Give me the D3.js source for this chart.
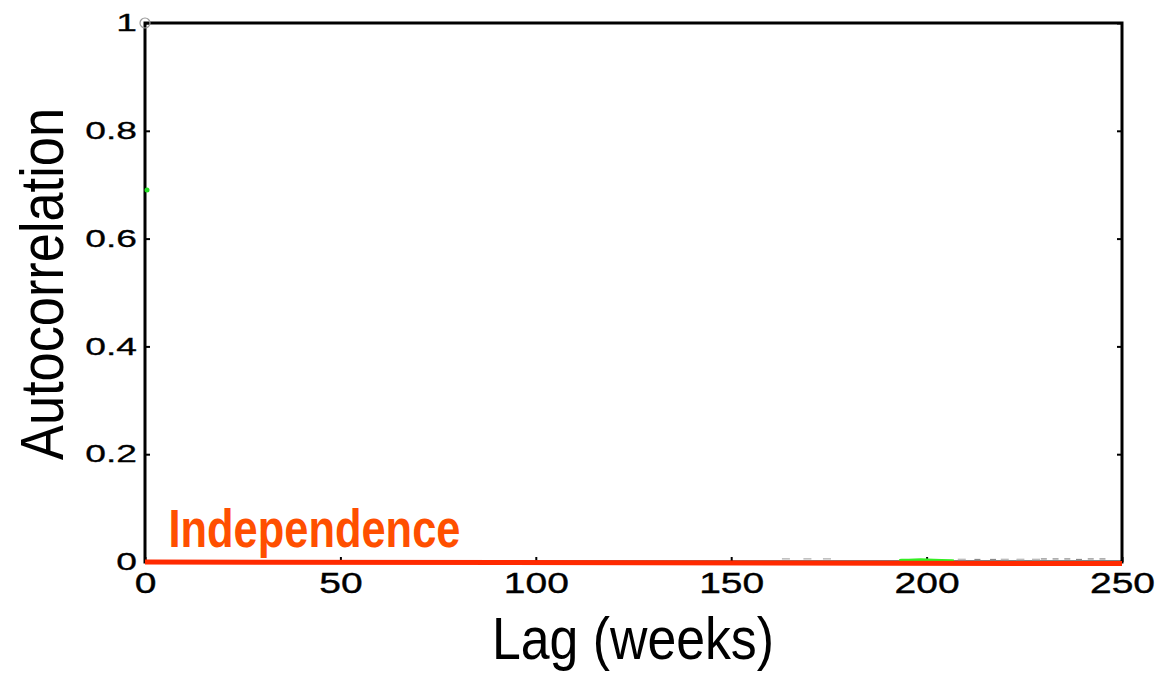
<!DOCTYPE html>
<html>
<head>
<meta charset="utf-8">
<script src="https://cdn.jsdelivr.net/npm/d3@7"></script>
<style>
html,body{margin:0;padding:0;background:#fff;}
svg{display:block;}
</style>
</head>
<body>
<svg id="chart" width="1158" height="675"></svg>
<script>
// ---- data ----
const xTicks = [0, 50, 100, 150, 200, 250];
const yTicks = [0, 0.2, 0.4, 0.6, 0.8, 1];
const yTickLabels = ["0", "0.2", "0.4", "0.6", "0.8", "1"];
const xTickLabels = ["0", "50", "100", "150", "200", "250"];
// lag-0 autocorrelation marker
const acfLags = [0];
const acfValues = [1];
// green series remnant
const greenLags = [0];
const greenValues = [0.69];
const greenTailLags = [193, 197, 200, 204, 207];
const greenTailValues = [0.003, 0.004, 0.004, 0.003, 0.002];
// small gray residual markers near zero
const grayLags = [164, 169.5, 174.5, 209, 220, 224, 228];
const grayValues = [0.004, 0.004, 0.004, 0.003, 0.003, 0.003, 0.003];
const darkLags = [213, 217, 230, 233, 236, 239, 242, 245];
const darkValues = [0.001, 0.001, 0.002, 0.002, 0.002, 0.001, 0.002, 0.002];
// independence reference line
const indepLags = [0, 250];
const indepValues = [0, -0.003];

// ---- layout ----
const svg = d3.select("#chart");
const margin = {left: 145, top: 23, right: 36, bottom: 113};
const W = 1158 - margin.left - margin.right;
const H = 675 - margin.top - margin.bottom;

const x = d3.scaleLinear().domain([0, 250]).range([0, W]);
const y = d3.scaleLinear().domain([0, 1]).range([H, 0]);

const g = svg.append("g").attr("transform", `translate(${margin.left},${margin.top})`);

// inner ticks (all four sides)
const axB = g.append("g").attr("transform", `translate(0,${H})`)
  .call(d3.axisBottom(x).tickValues(xTicks).tickSize(-5).tickFormat((d,i)=>xTickLabels[i]).tickPadding(14));
const axL = g.append("g")
  .call(d3.axisLeft(y).tickValues(yTicks).tickSize(-5).tickFormat((d,i)=>yTickLabels[i]).tickPadding(9));
const axR = g.append("g").attr("transform", `translate(${W},0)`)
  .call(d3.axisRight(y).tickValues(yTicks).tickSize(-5).tickFormat(""));
[axB, axL, axR].forEach(a => {
  a.select(".domain").remove();
  a.selectAll(".tick line").attr("stroke", "#000").attr("stroke-width", 2);
});
axB.selectAll(".tick text")
  .attr("font-family", "'Liberation Sans', Arial, sans-serif")
  .attr("font-size", 30).attr("fill", "#000")
  .attr("stroke", "#000").attr("stroke-width", 0.4)
  .attr("dy", "0.71em").attr("y", 10)
  .attr("transform", "scale(1.3,1)");
axL.selectAll(".tick text")
  .attr("font-family", "'Liberation Sans', Arial, sans-serif")
  .attr("font-size", 24).attr("fill", "#000")
  .attr("stroke", "#000").attr("stroke-width", 0.3)
  .attr("x", 0)
  .attr("transform", "translate(-8,0) scale(1.55,1)");

// frame
g.append("rect").attr("x", 0).attr("y", 0).attr("width", W).attr("height", H)
  .attr("fill", "none").attr("stroke", "#000").attr("stroke-width", 3);

// faint data remnants
g.selectAll(".acf").data(acfLags).enter().append("circle")
  .attr("cx", d => x(d)).attr("cy", (d,i) => y(acfValues[i])).attr("r", 5)
  .attr("fill", "none").attr("stroke", "#999").attr("stroke-width", 1.2);
g.selectAll(".green").data(greenLags).enter().append("circle")
  .attr("cx", d => x(d) + 2).attr("cy", (d,i) => y(greenValues[i])).attr("r", 2.5)
  .attr("fill", "#22dd22");
g.append("path")
  .datum(greenTailLags.map((d,i)=>[d, greenTailValues[i]]))
  .attr("d", d3.line().x(d=>x(d[0])).y(d=>y(d[1])).curve(d3.curveBasis))
  .attr("fill", "none").attr("stroke", "#33ee22").attr("stroke-width", 3);
g.selectAll(".gray").data(grayLags).enter().append("line")
  .attr("x1", d => x(d) - 4).attr("x2", d => x(d) + 4)
  .attr("y1", (d,i) => y(grayValues[i]) - 1).attr("y2", (d,i) => y(grayValues[i]) - 1)
  .attr("stroke", "#bbb").attr("stroke-width", 1.5);
g.selectAll(".dark").data(darkLags).enter().append("line")
  .attr("x1", d => x(d) - 3).attr("x2", d => x(d) + 3)
  .attr("y1", (d,i) => y(darkValues[i]) - 2).attr("y2", (d,i) => y(darkValues[i]) - 2)
  .attr("stroke", "#888").attr("stroke-width", 1.2);

// independence line
g.append("path")
  .datum(indepLags.map((d,i)=>[d, indepValues[i]]))
  .attr("d", d3.line().x(d=>x(d[0])).y(d=>y(d[1])))
  .attr("fill", "none").attr("stroke", "#ff2a00").attr("stroke-width", 5);

g.append("text")
  .attr("x", x(6)).attr("y", y(0) - 15)
  .attr("font-family", "'Liberation Sans Narrow', 'Arial Narrow', 'Liberation Sans', sans-serif")
  .attr("font-weight", "bold").attr("font-size", 53)
  .attr("textLength", 292).attr("lengthAdjust", "spacingAndGlyphs")
  .attr("fill", "#ff4f00")
  .text("Independence");

// axis titles
svg.append("text")
  .attr("x", 633).attr("y", 659)
  .attr("text-anchor", "middle")
  .attr("font-family", "'Liberation Sans Narrow', 'Arial Narrow', 'Liberation Sans', sans-serif")
  .attr("font-size", 60).attr("fill", "#000")
  .attr("textLength", 282).attr("lengthAdjust", "spacingAndGlyphs")
  .text("Lag (weeks)");
svg.append("text")
  .attr("transform", "translate(63,284) rotate(-90)")
  .attr("text-anchor", "middle")
  .attr("font-family", "'Liberation Sans Narrow', 'Arial Narrow', 'Liberation Sans', sans-serif")
  .attr("font-size", 62).attr("fill", "#000")
  .attr("textLength", 352).attr("lengthAdjust", "spacingAndGlyphs")
  .text("Autocorrelation");
</script>
</body>
</html>
